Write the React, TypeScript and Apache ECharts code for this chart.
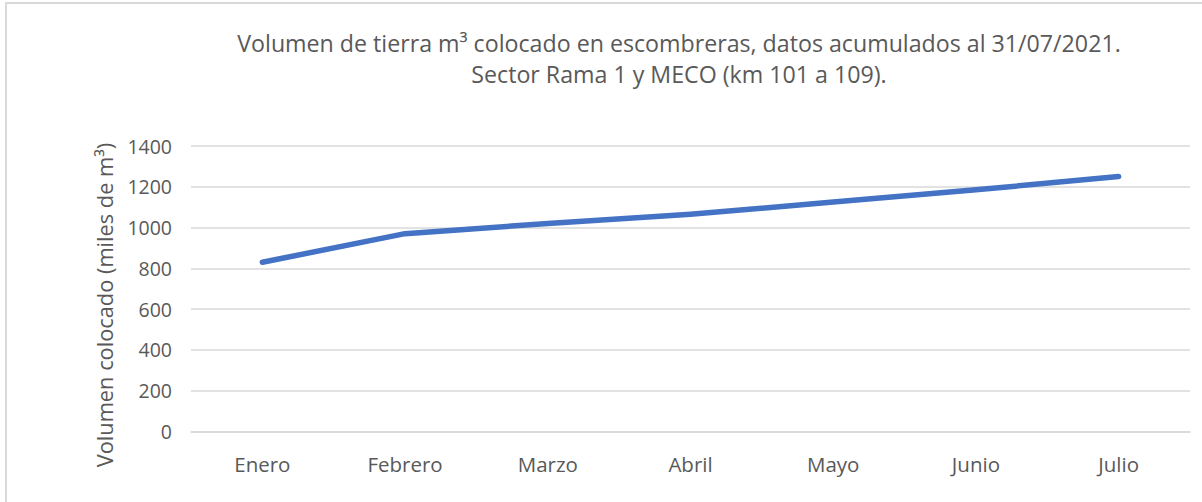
import React, { useEffect, useRef } from "react";
import * as echarts from "echarts";

const categories = ["Enero", "Febrero", "Marzo", "Abril", "Mayo", "Junio", "Julio"];
const volumen = [830, 970, 1020, 1065, 1125, 1185, 1250];
const titleLines = [
  "Volumen de tierra m³ colocado en escombreras, datos acumulados al 31/07/2021.",
  "Sector Rama 1 y MECO (km 101 a 109).",
];
const yAxisName = "Volumen colocado (miles de m³)";

export default function App() {
  const ref = useRef<HTMLDivElement>(null);
  useEffect(() => {
    document.body.style.margin = "0";
    const chart = echarts.init(ref.current!, null, { renderer: "svg" });
    const font = "'Open Sans', 'Noto Sans', sans-serif";
    chart.setOption({
      animation: false,
      backgroundColor: "#ffffff",
      title: {
        text: titleLines.join("\n"),
        left: 674,
        top: 22,
        textAlign: "center",
        textStyle: {
          fontFamily: font,
          fontSize: 23.2,
          fontWeight: "normal",
          color: "#595959",
          lineHeight: 31,
        },
      },
      graphic: [
        {
          type: "rect",
          shape: { x: 6, y: 3, width: 1300, height: 600 },
          style: { fill: "none", stroke: "#d9d9d9", lineWidth: 2 },
          silent: true,
        },
        {
          type: "text",
          x: 104,
          y: 305,
          rotation: Math.PI / 2,
          style: {
            text: yAxisName,
            fontFamily: font,
            fontSize: 21.8,
            fill: "#595959",
            align: "center",
            verticalAlign: "middle",
          },
        },
      ],
      grid: { left: 191, right: 12, top: 146, bottom: 70.6 },
      xAxis: {
        type: "category",
        data: categories,
        boundaryGap: true,
        axisLine: { lineStyle: { color: "#d9d9d9", width: 1.5 } },
        axisTick: { show: false },
        axisLabel: {
          fontFamily: font,
          fontSize: 20.5,
          color: "#595959",
          margin: 22,
        },
      },
      yAxis: {
        type: "value",
        min: 0,
        max: 1400,
        interval: 200,
        axisLine: { show: false },
        axisTick: { show: false },
        splitLine: { lineStyle: { color: "#d9d9d9", width: 1.5 } },
        axisLabel: {
          fontFamily: font,
          fontSize: 19.5,
          color: "#595959",
          margin: 19,
          formatter: (v: number) => String(v),
        },
      },
      series: [
        {
          type: "line",
          data: volumen,
          showSymbol: false,
          lineStyle: { color: "#4472c4", width: 5.5, cap: "round", join: "round" },
          itemStyle: { color: "#4472c4" },
        },
      ],
    });
    return () => chart.dispose();
  }, []);
  return <div ref={ref} style={{ width: 1202, height: 502 }} />;
}
